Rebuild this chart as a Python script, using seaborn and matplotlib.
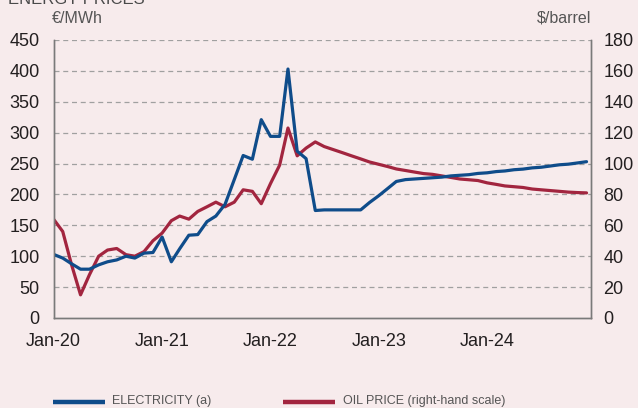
import matplotlib
matplotlib.use("Agg")
import matplotlib.pyplot as plt
import matplotlib.dates as mdates
import seaborn as sns
import pandas as pd

# monthly, Jan-20 .. Dec-24
months = pd.date_range("2020-01-01", periods=60, freq="MS")

electricity = [
    103, 97, 88, 79, 79, 86, 91, 94, 100, 97, 105, 106,
    131, 91, 112, 134, 135, 156, 165, 184, 224, 263, 257, 321,
    294, 294, 403, 270, 258, 174, 175, 175, 175, 175, 175, 187,
    198, 210, 221, 224, 225, 226, 227, 228, 230, 231, 232, 234,
    235, 237, 238, 240, 241, 243, 244, 246, 248, 249, 251, 253,
]

oil_price = [
    64, 56, 35, 15, 28, 40, 44, 45, 41, 40, 43, 50,
    55, 63, 66, 64, 69, 72, 75, 72, 75, 83, 82, 74,
    87, 99, 123, 105, 110, 114, 111, 109, 107, 105, 103, 101,
    99.5, 98, 96.5, 95.5, 94.5, 93.5, 93, 92, 91, 90, 89.5, 89,
    87.5, 86.5, 85.5, 85, 84.5, 83.5, 83, 82.5, 82, 81.5, 81.2, 81,
]

x_ticks = ["2020-01-01", "2021-01-01", "2022-01-01", "2023-01-01", "2024-01-01"]
left_ticks = [0, 50, 100, 150, 200, 250, 300, 350, 400, 450]
right_ticks = [0, 20, 40, 60, 80, 100, 120, 140, 160, 180]

df = pd.DataFrame({"month": months, "electricity": electricity, "oil": oil_price})

BG = "#F7EBEC"
BLUE = "#0F4C8A"
RED = "#A2253F"
GRID = "#A0A0A0"
TXT = "#231F20"

sns.set_style("white")
plt.rcParams["font.family"] = ["Liberation Sans", "DejaVu Sans"]

fig = plt.figure(figsize=(6.38, 4.08), dpi=100, facecolor=BG)
ax = fig.add_axes([0.0839, 0.2206, 0.8424, 0.6814])
ax.set_facecolor(BG)
ax2 = ax.twinx()

sns.lineplot(data=df, x="month", y="electricity", ax=ax, color=BLUE, lw=2.3)
sns.lineplot(data=df, x="month", y="oil", ax=ax2, color=RED, lw=2.3)
# blue line above the red one
ax.set_zorder(ax2.get_zorder() + 1)
ax.patch.set_visible(False)
ax2.patch.set_visible(True)
ax2.patch.set_facecolor(BG)

ax.set_ylim(0, 450)
ax2.set_ylim(0, 180)
ax.set_yticks(left_ticks)
ax2.set_yticks(right_ticks)
ax.set_xlim(pd.Timestamp("2020-01-01"), pd.Timestamp("2024-12-16"))
ax.set_xticks(pd.to_datetime(x_ticks))
ax.xaxis.set_major_formatter(mdates.DateFormatter("Jan-%y"))

ax.set_xlabel("")
ax.set_ylabel("")
ax2.set_ylabel("")

for y in left_ticks[1:]:
    ax2.axhline(y * 0.4, color=GRID, lw=0.9, ls=(0, (4, 3)), zorder=0)

for a in (ax, ax2):
    for s in a.spines.values():
        s.set_color("#7A7A7A")
        s.set_linewidth(1.0)
    a.spines["top"].set_visible(False)

ax.tick_params(axis="x", direction="in", length=5, color="#7A7A7A",
               labelsize=13, labelcolor=TXT, pad=11)
ax.tick_params(axis="y", length=0, labelsize=13, labelcolor=TXT, pad=10)
ax2.tick_params(axis="y", length=0, labelsize=13, labelcolor=TXT, pad=9)

fig.text(0.013, 0.990, "ENERGY PRICES", fontsize=12, color="#4A4A4A", va="baseline")
fig.text(0.081, 0.955, "€/MWh", fontsize=11.5, color="#555555", va="center", ha="left")
fig.text(0.926, 0.955, "$/barrel", fontsize=11.5, color="#555555", va="center", ha="right")

# legend drawn at the bottom edge
lx = fig.add_axes([0, 0, 1, 1], facecolor="none")
lx.set_axis_off()
lx.set_xlim(0, 638)
lx.set_ylim(408, 0)
lx.plot([53, 105], [402, 402], color=BLUE, lw=3.2, solid_capstyle="butt")
lx.plot([283, 335], [402, 402], color=RED, lw=3.2, solid_capstyle="butt")
lx.text(112, 401, "ELECTRICITY (a)", fontsize=9, color="#555555", va="center")
lx.text(343, 401, "OIL PRICE (right-hand scale)", fontsize=9, color="#555555", va="center")

fig.savefig("out.png", dpi=100, facecolor=BG)
